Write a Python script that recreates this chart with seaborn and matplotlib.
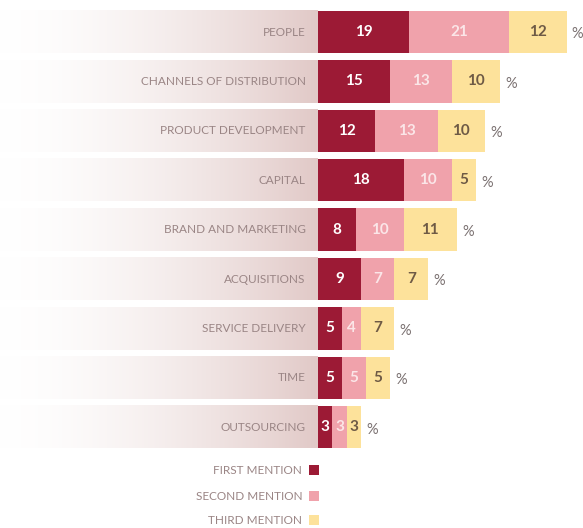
import numpy as np
import pandas as pd
import matplotlib
matplotlib.use("Agg")
import matplotlib.pyplot as plt
import seaborn as sns
from matplotlib.colors import LinearSegmentedColormap

categories = ["PEOPLE", "CHANNELS OF DISTRIBUTION", "PRODUCT DEVELOPMENT", "CAPITAL",
              "BRAND AND MARKETING", "ACQUISITIONS", "SERVICE DELIVERY", "TIME", "OUTSOURCING"]
first = [19, 15, 12, 18, 8, 9, 5, 5, 3]
second = [21, 13, 13, 10, 10, 7, 4, 5, 3]
third = [12, 10, 10, 5, 11, 7, 7, 5, 3]
legend_labels = ["FIRST MENTION", "SECOND MENTION", "THIRD MENTION"]

c1, c2, c3 = "#9c1a35", "#f0a2ab", "#fde29b"
txt_grey = "#9a8585"

sns.set_theme(style="white")
plt.rcParams["font.family"] = ["Lato", "DejaVu Sans"]

W, H = 583, 528
fig = plt.figure(figsize=(W / 100, H / 100), dpi=100)
ax = fig.add_axes([0, 0, 1, 1])

px_unit = 4.78
x0 = 318
row0 = 32
row_sp = 49.4
xl = -x0 / px_unit
xr = (W - x0) / px_unit
yt = -row0 / row_sp
yb = (H - row0) / row_sp

df = pd.DataFrame({"cat": categories, "first": first, "second": second, "third": third})
df["s12"] = df["first"] + df["second"]
df["s123"] = df["s12"] + df["third"]

bh = 0.86
# gradient label backgrounds (smooth ease-in from white)
t = np.linspace(0, 1, 1024)
ease = np.clip((t - 0.02) / 0.98, 0, 1) ** 1.8
cmap = LinearSegmentedColormap.from_list("g", ["#ffffff", "#e1c9c7"])
grad = ease.reshape(1, -1)
for i in range(len(categories)):
    ax.imshow(grad, cmap=cmap, vmin=0, vmax=1, aspect="auto", interpolation="bilinear",
              extent=[xl - 5, 0, i + bh / 2, i - bh / 2], zorder=0)

sns.barplot(data=df, x="s123", y="cat", color=c3, orient="h", width=bh, ax=ax, saturation=1, linewidth=0, zorder=2)
sns.barplot(data=df, x="s12", y="cat", color=c2, orient="h", width=bh, ax=ax, saturation=1, linewidth=0, zorder=3)
sns.barplot(data=df, x="first", y="cat", color=c1, orient="h", width=bh, ax=ax, saturation=1, linewidth=0, zorder=4)

fs_num = 11
for i, r in df.iterrows():
    ax.text(-2.6, i, r["cat"], ha="right", va="center", fontsize=8.5, color=txt_grey, zorder=6)
    ax.text(r["first"] / 2, i, str(r["first"]), ha="center", va="center", fontsize=fs_num,
            color="white", fontweight="bold", zorder=6)
    ax.text(r["first"] + r["second"] / 2, i, str(r["second"]), ha="center", va="center", fontsize=fs_num,
            color="#fbe6e8", fontweight="bold", zorder=6)
    ax.text(r["s12"] + r["third"] / 2, i, str(r["third"]), ha="center", va="center", fontsize=fs_num,
            color="#6e5a45", fontweight="bold", zorder=6)
    ax.text(r["s123"] + 1.1, i + 0.05, "%", ha="left", va="center", fontsize=10.5,
            color="#7a7070", zorder=6)

# legend
leg_y = [(470 - row0) / row_sp, (496 - row0) / row_sp, (520 - row0) / row_sp]
for lbl, col, yy in zip(legend_labels, [c1, c2, c3], leg_y):
    ax.text(-3.3, yy, lbl, ha="right", va="center", fontsize=8.5, color=txt_grey)
    ax.add_patch(plt.Rectangle((-1.8, yy - 0.1), 2.1, 0.2, color=col, lw=0))

ax.set_xlim(xl, xr)
ax.set_ylim(yb, yt)
ax.set_axis_off()
fig.savefig("out.png", dpi=100)
